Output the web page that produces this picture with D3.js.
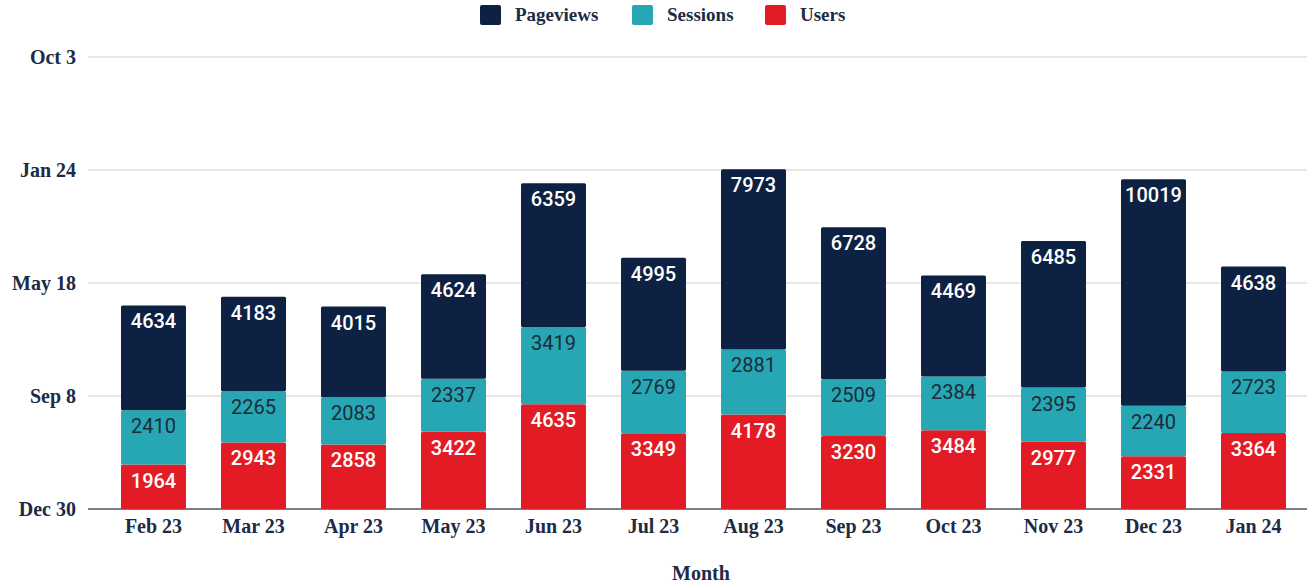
<!DOCTYPE html>
<html>
<head>
<meta charset="utf-8">
<script src="https://cdn.jsdelivr.net/npm/d3@7"></script>
<style>
  body { margin: 0; background: #fff; }
  svg { display: block; }
</style>
</head>
<body>
<div id="chart"></div>
<script>
// Data
const months = ['Feb 23', 'Mar 23', 'Apr 23', 'May 23', 'Jun 23', 'Jul 23',
                'Aug 23', 'Sep 23', 'Oct 23', 'Nov 23', 'Dec 23', 'Jan 24'];
const users = [1964, 2943, 2858, 3422, 4635, 3349, 4178, 3230, 3484, 2977, 2331, 3364];
const sessions = [2410, 2265, 2083, 2337, 3419, 2769, 2881, 2509, 2384, 2395, 2240, 2723];
const pageviews = [4634, 4183, 4015, 4624, 6359, 4995, 7973, 6728, 4469, 6485, 10019, 4638];
// y axis values shown as (spreadsheet) dates
const yTicks = [0, 5000, 10000, 15000, 20000];
const yTickLabels = ['Dec 30', 'Sep 8', 'May 18', 'Jan 24', 'Oct 3'];

const seriesNames = ['Users', 'Sessions', 'Pageviews'];
const colors = { Users: '#e31b25', Sessions: '#27a6b4', Pageviews: '#0d2142' };
const labelColors = { Users: '#ffffff', Sessions: '#1c2b3a', Pageviews: '#ffffff' };

const width = 1307;
const height = 583;
const margin = { top: 57, right: 0, bottom: 74, left: 88 };
const axisFont = '"Liberation Serif", "Times New Roman", serif';
const axisColor = '#1d2b45';
const axisSize = 20;

const svg = d3.select('#chart')
    .append('svg')
    .attr('width', width)
    .attr('height', height);

const rows = months.map((m, i) => ({
    month: m, Users: users[i], Sessions: sessions[i], Pageviews: pageviews[i]
}));
const stacked = d3.stack().keys(seriesNames)(rows);

// Scales
const x = d3.scaleBand()
    .domain(months)
    .range([103.5, 1303.5])
    .paddingInner(0.35)
    .paddingOuter(0.175);

const y = d3.scaleLinear()
    .domain([0, 20000])
    .range([height - margin.bottom, margin.top]);

// Gridlines
svg.append('g')
    .selectAll('line')
    .data(yTicks)
    .join('line')
    .attr('x1', margin.left)
    .attr('x2', width)
    .attr('y1', d => y(d))
    .attr('y2', d => y(d))
    .attr('stroke', d => d === 0 ? '#555' : '#d0d0d0')
    .attr('stroke-width', d => d === 0 ? 1.5 : 1.2);

// Y axis labels
const yAxis = d3.axisLeft(y)
    .tickValues(yTicks)
    .tickFormat((d, i) => yTickLabels[i])
    .tickSize(0)
    .tickPadding(12);
const gy = svg.append('g')
    .attr('transform', `translate(${margin.left}, 0)`)
    .call(yAxis);
gy.select('.domain').remove();
gy.selectAll('text')
    .attr('font-family', axisFont)
    .attr('font-weight', 'bold')
    .attr('font-size', axisSize)
    .attr('fill', axisColor);

// Bars
const layer = svg.append('g')
    .selectAll('g')
    .data(stacked)
    .join('g')
    .attr('fill', d => colors[d.key]);

layer.selectAll('rect')
    .data(d => d)
    .join('rect')
    .attr('x', d => x(d.data.month))
    .attr('width', x.bandwidth())
    .attr('y', d => y(d[1]))
    .attr('height', d => y(d[0]) - y(d[1]))
    .attr('rx', 1.5);

// Value labels inside segments
stacked.forEach(s => {
    svg.append('g')
        .selectAll('text')
        .data(s)
        .join('text')
        .attr('x', d => x(d.data.month) + x.bandwidth() / 2)
        .attr('y', d => y(d[1]) + 23)
        .attr('text-anchor', 'middle')
        .attr('font-family', 'Roboto, sans-serif')
        .attr('font-size', 20)
        .attr('font-weight', s.key === 'Sessions' ? 400 : 500)
        .attr('fill', labelColors[s.key])
        .text(d => d.data[s.key]);
});

// X axis labels
const xAxis = d3.axisBottom(x).tickSize(0).tickPadding(10);
const gx = svg.append('g')
    .attr('transform', `translate(0, ${height - margin.bottom})`)
    .call(xAxis);
gx.select('.domain').remove();
gx.selectAll('text')
    .attr('font-family', axisFont)
    .attr('font-weight', 'bold')
    .attr('font-size', axisSize)
    .attr('fill', axisColor);

// Axis title
svg.append('text')
    .attr('x', 701)
    .attr('y', 580)
    .attr('text-anchor', 'middle')
    .attr('font-family', axisFont)
    .attr('font-weight', 'bold')
    .attr('font-size', axisSize)
    .attr('fill', axisColor)
    .text('Month');

// Legend
const legendItems = [
    { key: 'Pageviews', x: 480 },
    { key: 'Sessions', x: 632 },
    { key: 'Users', x: 765 }
];
const legend = svg.append('g')
    .selectAll('g')
    .data(legendItems)
    .join('g')
    .attr('transform', d => `translate(${d.x}, 5)`);
legend.append('rect')
    .attr('width', 21)
    .attr('height', 20)
    .attr('rx', 2)
    .attr('fill', d => colors[d.key]);
legend.append('text')
    .attr('x', 35)
    .attr('y', 16)
    .attr('font-family', axisFont)
    .attr('font-weight', 'bold')
    .attr('font-size', 19)
    .attr('fill', axisColor)
    .text(d => d.key);
</script>
</body>
</html>
